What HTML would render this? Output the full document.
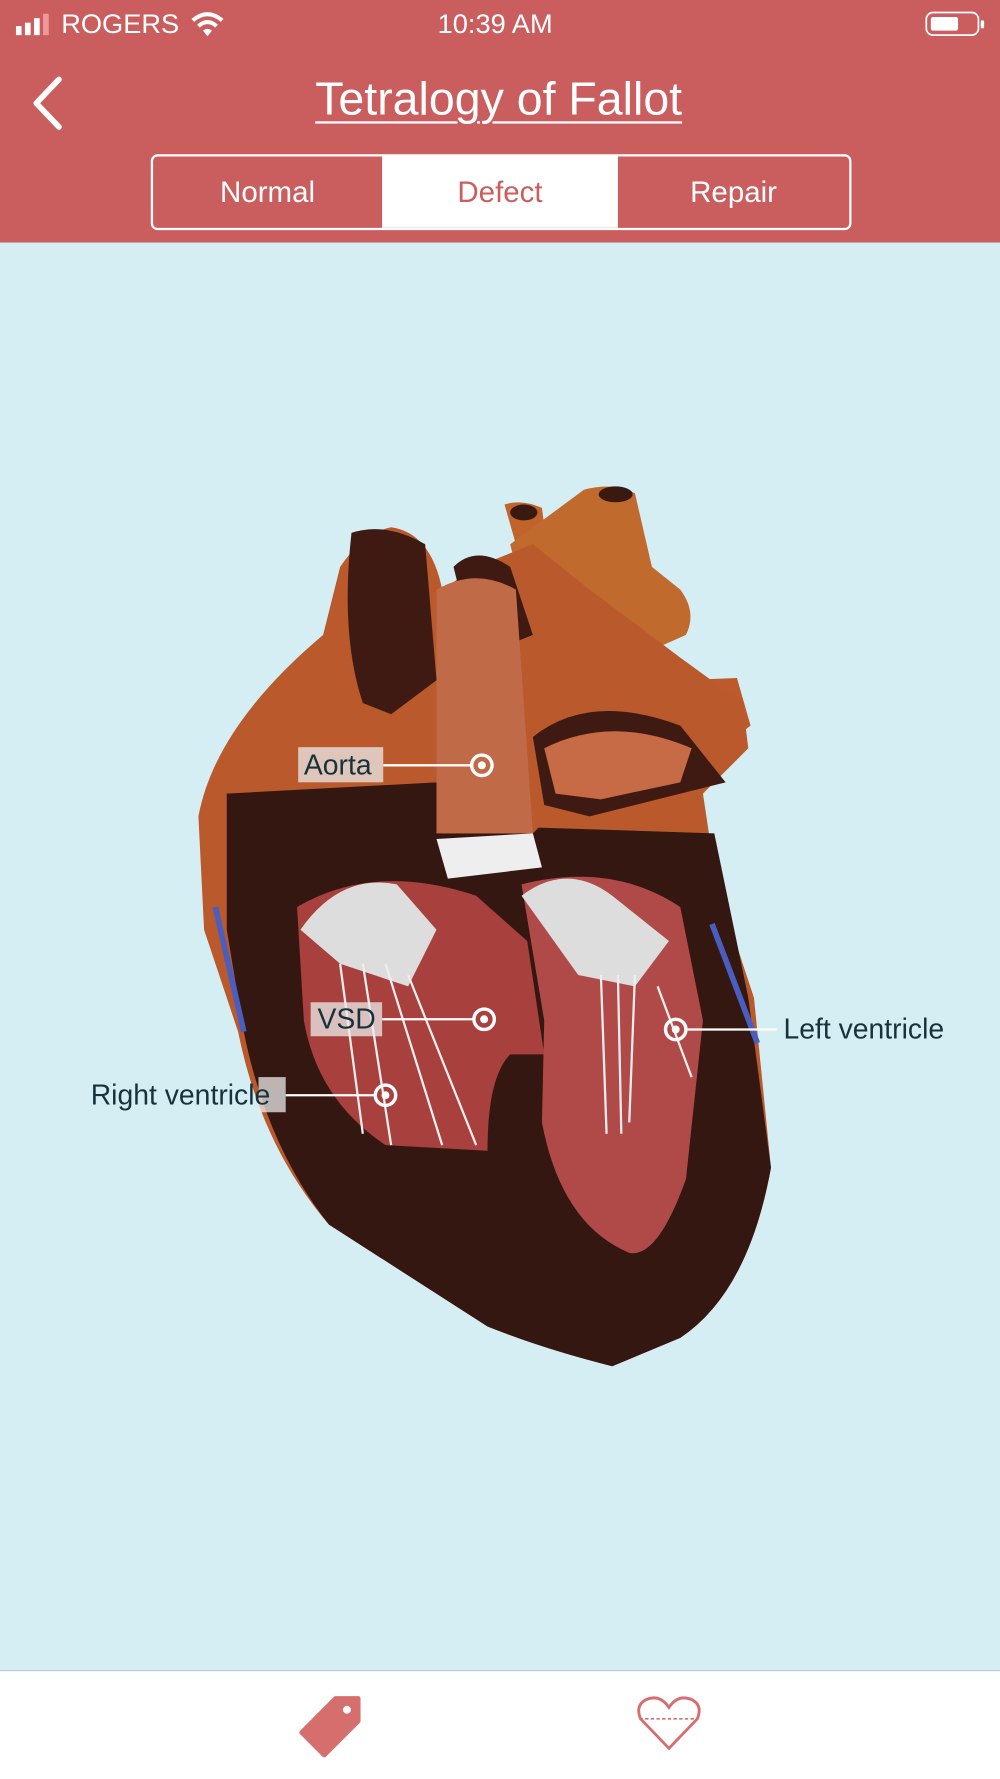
<!DOCTYPE html>
<html><head><meta charset="utf-8"><style>
html,body{margin:0;padding:0;width:1000px;height:1778px;overflow:hidden;background:#d5eef3}
#w{position:absolute;left:0;top:0;width:882px;height:1568px;transform:scale(1.133787);transform-origin:0 0;font-family:"Liberation Sans",sans-serif}
.hdr{position:absolute;left:0;top:0;width:882px;height:214px;background:#ca5e5e;color:#fff}
.t{position:absolute;white-space:nowrap}
.seg{position:absolute;left:133px;top:136px;width:614px;height:63px;border:2px solid #fff;border-radius:6px;overflow:hidden}
.seg div{position:absolute;top:0;height:63px;line-height:63px;text-align:center;font-size:26px;color:#fff}
.body{position:absolute;left:0;top:214px;width:882px;height:1259px;background:#d5eef3}
.foot{position:absolute;left:0;top:1473px;width:882px;height:95px;background:#fff;border-top:1px solid #b9c9cc}
.lbl{position:absolute;font-size:25px;color:#17323a;white-space:nowrap}
</style></head><body><div id="w">
<div class="hdr">
 <svg class="t" style="left:14px;top:12px" width="34" height="20"><rect x="0" y="11" width="5" height="8" fill="#fff"/><rect x="8" y="8" width="5" height="11" fill="#fff"/><rect x="16" y="4" width="5" height="15" fill="#fff"/><rect x="24" y="0" width="5" height="19" fill="#e99"/></svg>
 <div class="t" style="left:54px;top:8px;font-size:24px">ROGERS</div>
 <svg class="t" style="left:168px;top:10px" width="30" height="24"><path d="M2 8 Q15 -3 28 8" stroke="#fff" stroke-width="3.5" fill="none"/><path d="M7 13 Q15 6 23 13" stroke="#fff" stroke-width="3.5" fill="none"/><path d="M11 17 L15 22 L19 17 Q15 14 11 17Z" fill="#fff"/></svg>
 <div class="t" style="left:386px;top:8px;font-size:24px">10:39 AM</div>
 <svg class="t" style="left:816px;top:10px" width="54" height="24"><rect x="1" y="1" width="46" height="20" rx="6" stroke="#fff" stroke-width="1.5" fill="none"/><rect x="5" y="5" width="24" height="12" rx="2" fill="#fff"/><rect x="49" y="8" width="3" height="7" rx="1" fill="#fff"/></svg>
 <svg class="t" style="left:24px;top:66px" width="34" height="50"><path d="M28 4 L8 25 L28 46" stroke="#fff" stroke-width="5" fill="none" stroke-linecap="round" stroke-linejoin="round"/></svg>
 <div class="t" style="left:278px;top:64px;font-size:41px;text-decoration:underline;text-decoration-thickness:2px;text-underline-offset:6px">Tetralogy of Fallot</div>
 <div class="seg">
  <div style="left:0;width:202px">Normal</div>
  <div style="left:202px;width:208px;background:#fff;color:#ca5e5e">Defect</div>
  <div style="left:410px;width:204px">Repair</div>
 </div>
</div>
<div class="body"></div>
<svg style="position:absolute;left:0;top:0" width="882" height="1473">
 <path d="M445 445 Q460 440 478 448 L482 480 L455 480Z" fill="#c0642c"/>
 <path d="M515 432 Q540 425 560 435 L575 500 L600 520 Q615 540 605 560 L560 580 L480 600 L450 480Z" fill="#c06a2e"/>
 <path d="M600 600 L650 598 L662 640 L610 680Z" fill="#bd5a2b"/>
 <ellipse cx="543" cy="436" rx="15" ry="7" fill="#3a1a10"/>
 <ellipse cx="462" cy="452" rx="12" ry="7" fill="#3a1a10"/>
 <path d="M175 720 Q190 640 285 560 L300 500 Q320 470 345 465 Q380 470 390 520 L420 500 L470 480 L520 520 L600 580 L655 620 L660 660 L620 700 L632 780 L665 880 L680 1030 Q660 1140 600 1180 L540 1205 Q480 1190 430 1170 L290 1080 Q230 1010 210 910 L180 820Z" fill="#b9592c"/>
 <path d="M310 470 Q340 460 375 480 L385 600 L345 630 L320 620 Q300 560 310 470Z" fill="#3e1a12"/>
 <path d="M400 500 Q420 480 450 500 L470 560 L420 580Z" fill="#3e1a12"/>
 <path d="M470 650 Q520 610 600 640 L640 690 L600 700 L520 720 L480 710Z" fill="#3e1a12"/>
 <path d="M480 660 Q540 630 610 660 L600 690 L530 705 L490 700Z" fill="#c76a46"/>
 <path d="M200 700 L385 690 L390 735 L470 735 L475 730 L630 735 L660 880 L680 1030 Q660 1140 600 1180 L540 1205 Q480 1190 430 1170 L290 1080 Q235 1010 215 910 L200 820Z" fill="#351712"/>
 <path d="M385 520 Q420 500 455 520 L470 735 L385 735Z" fill="#c16a48"/>
 <path d="M262 800 Q330 760 420 790 L465 830 L480 930 L450 930 Q430 950 430 1015 L340 1010 Q280 970 268 900Z" fill="#a8403e"/>
 <path d="M460 780 Q540 760 600 800 L620 900 L605 1040 Q580 1110 555 1105 Q495 1080 478 990 L480 900Z" fill="#b04a48"/>
 <path d="M385 740 L470 735 L478 765 L395 775Z" fill="#eee"/>
 <path d="M265 820 Q300 770 350 780 L385 820 L360 870 L300 850Z" fill="#ddd"/>
 <path d="M460 790 Q500 760 540 790 L590 830 L560 870 L510 860Z" fill="#ddd"/>
 <path d="M300 850 L320 1000 M320 850 L345 1010 M340 850 L390 1010 M360 860 L420 1010" stroke="#eee" stroke-width="2" fill="none"/>
 <path d="M530 860 L535 1000 M545 860 L548 1000 M560 860 L555 990 M580 870 L610 950" stroke="#eee" stroke-width="2" fill="none"/>
 <path d="M190 800 L215 910" stroke="#4a5ec0" stroke-width="5"/>
 <path d="M628 815 L668 920" stroke="#4a5ec0" stroke-width="5"/>
 <g stroke="#fff" stroke-width="2" fill="none">
  <line x1="338" y1="675" x2="416" y2="675"/><circle cx="425" cy="675" r="9" stroke-width="3"/>
  <line x1="337" y1="899" x2="418" y2="899"/><circle cx="427" cy="899" r="9" stroke-width="3"/>
  <line x1="252" y1="966" x2="331" y2="966"/><circle cx="340" cy="966" r="9" stroke-width="3"/>
  <line x1="605" y1="908" x2="685" y2="908"/><circle cx="596" cy="908" r="9" stroke-width="3"/>
 </g>
 <g fill="#fff"><circle cx="425" cy="675" r="3.5"/><circle cx="427" cy="899" r="3.5"/><circle cx="340" cy="966" r="3.5"/><circle cx="596" cy="908" r="3.5"/></g>
 <rect x="263" y="659" width="75" height="31" fill="rgba(235,235,235,0.75)"/>
 <rect x="274" y="884" width="63" height="30" fill="rgba(235,235,235,0.75)"/>
 <rect x="228" y="950" width="24" height="31" fill="rgba(235,235,235,0.75)"/>
</svg>
<div class="lbl" style="left:268px;top:661px">Aorta</div>
<div class="lbl" style="left:280px;top:885px">VSD</div>
<div class="lbl" style="left:80px;top:952px">Right ventricle</div>
<div class="lbl" style="left:691px;top:894px">Left ventricle</div>
<div class="foot">
 <svg style="position:absolute;left:262px;top:20px" width="60" height="60"><path d="M4 34 L34 4 L54 4 L54 24 L24 54Z" fill="#d66e6e" stroke="#d66e6e" stroke-width="4" stroke-linejoin="round"/><circle cx="44" cy="14" r="3.5" fill="#fff"/></svg>
 <svg style="position:absolute;left:560px;top:20px" width="60" height="52"><path d="M30 48 L5 22 Q0 10 10 5 Q22 0 30 12 Q38 0 50 5 Q60 10 55 22Z" fill="none" stroke="#d66e6e" stroke-width="2.5"/><line x1="4" y1="22" x2="56" y2="22" stroke="#d66e6e" stroke-width="1.5" stroke-dasharray="3 2"/></svg>
</div>
</div></body></html>
